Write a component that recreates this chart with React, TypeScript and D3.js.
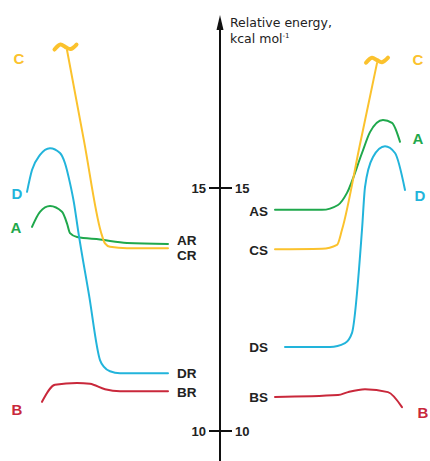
import { useEffect, useRef } from "react"
import * as d3 from "d3"

// reaction coordinate: -1 (far left) .. 0 (energy axis) .. +1 (far right); energy in kcal/mol
const yTicks = [10, 15]

const leftA = [[-0.94, 14.2], [-0.9, 14.51], [-0.85, 14.63], [-0.79, 14.51], [-0.765, 14.27], [-0.75, 14.07], [-0.715, 13.99], [-0.6, 13.94], [-0.465, 13.87], [-0.26, 13.85]]
const leftC = [[-0.765, 17.84], [-0.68, 15.97], [-0.595, 14.09], [-0.575, 13.86], [-0.55, 13.79], [-0.465, 13.76], [-0.26, 13.76]]
const leftD = [[-0.965, 14.92], [-0.94, 15.37], [-0.9, 15.68], [-0.85, 15.82], [-0.8, 15.72], [-0.775, 15.51], [-0.75, 15.1], [-0.73, 14.69], [-0.71, 14.14], [-0.655, 12.8], [-0.6, 11.46], [-0.58, 11.32], [-0.55, 11.23], [-0.5, 11.19], [-0.26, 11.19]]
const leftB = [[-0.89, 10.6], [-0.825, 10.95], [-0.715, 10.99], [-0.65, 10.97], [-0.575, 10.86], [-0.5, 10.82], [-0.26, 10.82]]

const rightA = [[0.275, 14.55], [0.51, 14.55], [0.59, 14.65], [0.635, 14.9], [0.71, 15.72], [0.75, 16.15], [0.815, 16.4], [0.86, 16.34], [0.9, 15.95]]
const rightC = [[0.275, 13.74], [0.51, 13.75], [0.585, 13.83], [0.61, 14.14], [0.7, 15.9], [0.785, 17.57]]
const rightD = [[0.325, 11.73], [0.55, 11.73], [0.625, 11.81], [0.66, 12.02], [0.71, 14.14], [0.725, 15.02], [0.765, 15.64], [0.825, 15.86], [0.875, 15.72], [0.925, 14.96]]
const rightB = [[0.275, 10.7], [0.59, 10.74], [0.64, 10.8], [0.725, 10.86], [0.84, 10.8], [0.91, 10.49]]

const curves = [
  { key: "A", color: "#1fa84c", pts: [leftA, rightA] },
  { key: "C", color: "#fbc22d", pts: [leftC, rightC] },
  { key: "D", color: "#22b4db", pts: [leftD, rightD] },
  { key: "B", color: "#c9283b", pts: [leftB, rightB] },
]

// broken-axis tildes on the C curves
const tildes = [[-0.7725, 17.9], [0.785, 17.63]]

const leftStates = [["AR", 13.93], ["CR", 13.62], ["DR", 11.19], ["BR", 10.8]]
const rightStates = [["AS", 14.53], ["CS", 13.72], ["DS", 11.73], ["BS", 10.7]]

const letters = [
  ["C", -1.005, 17.67, "#fbc22d"],
  ["D", -1.015, 14.88, "#22b4db"],
  ["A", -1.02, 14.18, "#1fa84c"],
  ["B", -1.015, 10.45, "#c9283b"],
  ["C", 0.99, 17.65, "#fbc22d"],
  ["A", 0.99, 16.01, "#1fa84c"],
  ["D", 1.0, 14.84, "#22b4db"],
  ["B", 1.015, 10.37, "#c9283b"],
]

const App = () => {
  const svgRef = useRef(null)

  useEffect(() => {
    const width = 430
    const height = 461
    const font = "Arial, 'Liberation Sans', sans-serif"

    const x = d3.scaleLinear().domain([-1, 1]).range([20, 420])
    const y = d3.scaleLinear().domain([10, 15]).range([431, 188])
    const x0 = x(0)

    const svg = d3.select(svgRef.current)
    svg.selectAll("*").remove()
    svg.attr("width", width).attr("height", height)

    // axis with arrow
    svg.append("line").attr("x1", x0).attr("x2", x0).attr("y1", height).attr("y2", 26)
      .attr("stroke", "#111").attr("stroke-width", 2)
    svg.append("path").attr("d", `M${x0},15 L${x0 - 3.5},30 L${x0 + 3.5},30 Z`).attr("fill", "#111")

    const ticks = svg.append("g")
    yTicks.forEach((t) => {
      ticks.append("line").attr("x1", x0 - 11).attr("x2", x0 + 12).attr("y1", y(t)).attr("y2", y(t))
        .attr("stroke", "#111").attr("stroke-width", 2)
      ticks.append("text").attr("x", x0 - 14).attr("y", y(t)).attr("dy", "0.36em").attr("text-anchor", "end")
        .style("font", `bold 13px ${font}`).attr("fill", "#222").text(t)
      ticks.append("text").attr("x", x0 + 15).attr("y", y(t)).attr("dy", "0.36em").attr("text-anchor", "start")
        .style("font", `bold 13px ${font}`).attr("fill", "#222").text(t)
    })

    // axis title
    const tfont = "'DejaVu Sans', Verdana, sans-serif"
    svg.append("text").attr("x", x0 + 10).attr("y", 27).style("font", `12.5px ${tfont}`).attr("fill", "#222").text("Relative energy,")
    const t2 = svg.append("text").attr("x", x0 + 10).attr("y", 43).style("font", `12.5px ${tfont}`).attr("fill", "#222")
    t2.append("tspan").text("kcal mol")
    t2.append("tspan").attr("dy", -5).style("font-size", "7px").text("-1")

    const line = d3.line().x((d) => x(d[0])).y((d) => y(d[1])).curve(d3.curveMonotoneX)

    curves.forEach((c) => {
      c.pts.forEach((p) => {
        svg.append("path").attr("d", line(p)).attr("fill", "none").attr("stroke", c.color)
          .attr("stroke-width", 2).attr("stroke-linejoin", "round").attr("stroke-linecap", "round")
      })
    })

    // tildes
    const tildeShape = [[-11, 2.5], [-5, -2.5], [0, 0], [5, 2], [11, -2.5]]
    const tl = d3.line().curve(d3.curveCatmullRom)
    tildes.forEach((t) => {
      const cx = x(t[0])
      const cy = y(t[1])
      svg.append("path").attr("d", tl(tildeShape.map((p) => [cx + p[0], cy + p[1]])))
        .attr("fill", "none").attr("stroke", "#fbc22d").attr("stroke-width", 4).attr("stroke-linecap", "round")
    })

    svg.append("g").selectAll("text").data(leftStates).enter().append("text")
      .attr("x", x(-0.215)).attr("y", (d) => y(d[1])).attr("dy", "0.36em")
      .style("font", `bold 13.5px ${font}`).attr("fill", "#222").text((d) => d[0])

    svg.append("g").selectAll("text").data(rightStates).enter().append("text")
      .attr("x", x(0.24)).attr("y", (d) => y(d[1])).attr("dy", "0.36em").attr("text-anchor", "end")
      .style("font", `bold 13.5px ${font}`).attr("fill", "#222").text((d) => d[0])

    svg.append("g").selectAll("text").data(letters).enter().append("text")
      .attr("x", (d) => x(d[1])).attr("y", (d) => y(d[2])).attr("dy", "0.36em").attr("text-anchor", "middle")
      .style("font", `bold 15px ${font}`).attr("fill", (d) => d[3]).text((d) => d[0])
  }, [])

  return (
    <div style={{ position: "absolute", left: 0, top: 0 }}>
      <svg ref={svgRef}></svg>
    </div>
  )
}

export default App
